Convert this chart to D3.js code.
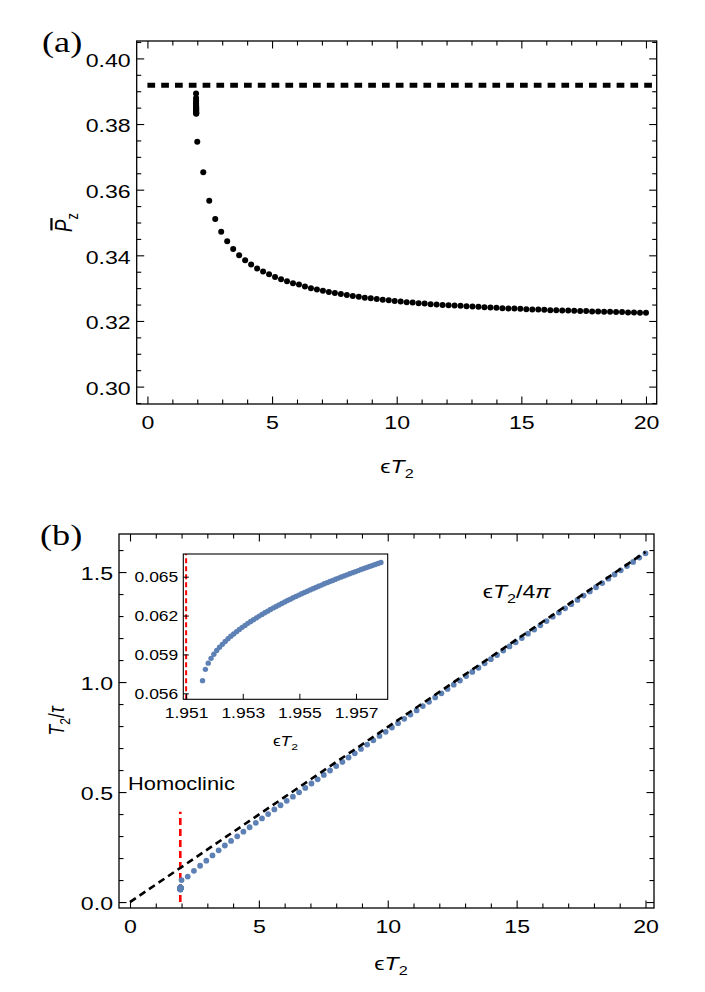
<!DOCTYPE html>
<html>
<head>
<meta charset="utf-8">
<script src="https://cdn.jsdelivr.net/npm/d3@7"></script>
<style>
  body { margin: 0; background: #fff; }
</style>
</head>
<body>
<div id="chart"></div>
<script>
// ---- data ----
// eps*T2 sample points (both panels)
let epsT2 = [2.00, 2.24, 2.48, 2.72, 2.96, 3.20, 3.44, 3.68, 3.92, 4.16,
  4.40, 4.64, 4.88, 5.12, 5.36, 5.60, 5.84, 6.08, 6.32, 6.56,
  6.80, 7.04, 7.28, 7.52, 7.76, 8.00, 8.24, 8.48, 8.72, 8.96,
  9.20, 9.44, 9.68, 9.92, 10.16, 10.40, 10.64, 10.88, 11.12, 11.36,
  11.60, 11.84, 12.08, 12.32, 12.56, 12.80, 13.04, 13.28, 13.52, 13.76,
  14.00, 14.24, 14.48, 14.72, 14.96, 15.20, 15.44, 15.68, 15.92, 16.16,
  16.40, 16.64, 16.88, 17.12, 17.36, 17.60, 17.84, 18.08, 18.32, 18.56,
  18.80, 19.04, 19.28, 19.52, 19.76, 20.00];

// panel (a): time averaged P_z
let pzBar = [0.3746, 0.3653, 0.3566, 0.3511, 0.3472, 0.3443, 0.3419, 0.3400, 0.3385, 0.3372,
  0.3360, 0.3351, 0.3342, 0.3334, 0.3327, 0.3321, 0.3315, 0.3311, 0.3305, 0.3300,
  0.3296, 0.3292, 0.3288, 0.3285, 0.3282, 0.3279, 0.3276, 0.3274, 0.3271, 0.3269,
  0.3267, 0.3265, 0.3263, 0.3261, 0.3259, 0.3257, 0.3256, 0.3254, 0.3253, 0.3251,
  0.3250, 0.3249, 0.3248, 0.3247, 0.3246, 0.3245, 0.3244, 0.3243, 0.3242, 0.3241,
  0.3240, 0.3239, 0.3238, 0.3238, 0.3237, 0.3236, 0.3235, 0.3235, 0.3234, 0.3233,
  0.3233, 0.3232, 0.3232, 0.3231, 0.3230, 0.3230, 0.3229, 0.3229, 0.3228, 0.3228,
  0.3227, 0.3227, 0.3226, 0.3226, 0.3225, 0.3225];

// points of panel (a) squeezed right next to the homoclinic value
let epsT2Cluster = [1.95158, 1.95198, 1.95238, 1.95278, 1.95318, 1.95358, 1.95398, 1.95438,
  1.95478, 1.95518, 1.95558, 1.95598, 1.95638, 1.95678, 1.95718, 1.95758];
let pzBarCluster = [0.3893, 0.3879, 0.3872, 0.3867, 0.3862, 0.3858, 0.3855, 0.3851,
  0.3848, 0.3845, 0.3843, 0.3840, 0.3837, 0.3835, 0.3833, 0.3831];
let pzLimit = 0.3918;

// panel (b): T2/tau
let t2OverTau = [0.100, 0.116, 0.142, 0.165, 0.188, 0.212, 0.235, 0.257, 0.278, 0.299,
  0.320, 0.340, 0.360, 0.380, 0.400, 0.421, 0.440, 0.460, 0.479, 0.499,
  0.519, 0.539, 0.558, 0.578, 0.598, 0.618, 0.637, 0.657, 0.676, 0.696,
  0.716, 0.735, 0.755, 0.774, 0.7935, 0.813, 0.833, 0.852, 0.871, 0.891,
  0.910, 0.930, 0.949, 0.969, 0.988, 1.007, 1.027, 1.046, 1.065, 1.085,
  1.104, 1.123, 1.143, 1.162, 1.181, 1.200, 1.220, 1.239, 1.258, 1.277,
  1.297, 1.316, 1.335, 1.354, 1.3735, 1.393, 1.412, 1.431, 1.450, 1.470,
  1.489, 1.508, 1.527, 1.546, 1.566, 1.585];

// inset: fine scan near the homoclinic point
let epsT2Fine = [1.95158, 1.95168, 1.95178, 1.95188, 1.95198, 1.95208, 1.95218, 1.95228, 1.95238, 1.95248,
  1.95258, 1.95268, 1.95278, 1.95288, 1.95298, 1.95308, 1.95318, 1.95328, 1.95338, 1.95348,
  1.95358, 1.95368, 1.95378, 1.95388, 1.95398, 1.95408, 1.95418, 1.95428, 1.95438, 1.95448,
  1.95458, 1.95468, 1.95478, 1.95488, 1.95498, 1.95508, 1.95518, 1.95528, 1.95538, 1.95548,
  1.95558, 1.95568, 1.95578, 1.95588, 1.95598, 1.95608, 1.95618, 1.95628, 1.95638, 1.95648,
  1.95658, 1.95668, 1.95678, 1.95688, 1.95698, 1.95708, 1.95718, 1.95728, 1.95738, 1.95748,
  1.95758, 1.95768, 1.95778, 1.95788];
let t2OverTauFine = [0.05698, 0.05785, 0.05833, 0.05870, 0.05902, 0.05930, 0.05955, 0.05978, 0.06000, 0.06021,
  0.06040, 0.06058, 0.06076, 0.06093, 0.06109, 0.06124, 0.06140, 0.06154, 0.06168, 0.06182,
  0.06196, 0.06209, 0.06222, 0.06234, 0.06247, 0.06259, 0.06270, 0.06282, 0.06293, 0.06305,
  0.06316, 0.06326, 0.06337, 0.06348, 0.06358, 0.06368, 0.06378, 0.06388, 0.06398, 0.06407,
  0.06417, 0.06426, 0.06435, 0.06445, 0.06454, 0.06463, 0.06471, 0.06480, 0.06489, 0.06497,
  0.06506, 0.06514, 0.06523, 0.06531, 0.06539, 0.06547, 0.06555, 0.06563, 0.06571, 0.06579,
  0.06586, 0.06594, 0.06602, 0.06609];

// reference lines of panel (b)
let asymptoteX = [0, 20];
let asymptoteY = [0, 1.5915];
let homoclinicX = 1.951;
let homoclinicY = [0, 0.41];

// ticks
let xTicksMain = [0, 5, 10, 15, 20];
let xMinorMain = [1, 2, 3, 4, 6, 7, 8, 9, 11, 12, 13, 14, 16, 17, 18, 19];
let yTicksA = [0.30, 0.32, 0.34, 0.36, 0.38, 0.40];
let yMinorA = [0.295, 0.305, 0.31, 0.315, 0.325, 0.33, 0.335, 0.345, 0.35, 0.355,
  0.365, 0.37, 0.375, 0.385, 0.39, 0.395, 0.405];
let yTicksB = [0, 0.5, 1.0, 1.5];
let yMinorB = [0.1, 0.2, 0.3, 0.4, 0.6, 0.7, 0.8, 0.9, 1.1, 1.2, 1.3, 1.4, 1.6];
let xTicksInset = [1.951, 1.953, 1.955, 1.957];
let yTicksInset = [0.056, 0.059, 0.062, 0.065];

// ---- drawing ----
const SANS = "'Liberation Sans', Arial, Helvetica, sans-serif";
const SERIF = "'Liberation Serif', 'Times New Roman', serif";
const STRETCH = 1.25;   // the original figure is stretched sideways
const BLUE = "#5e81b5";

let svg = d3.select("#chart").append("svg")
  .attr("width", 705)
  .attr("height", 992)
  .style("background", "#fff");

// scales (ranges are page pixels)
let xA = d3.scaleLinear().domain([-0.43, 20.43]).range([136.7, 656.7]);
let yA = d3.scaleLinear().domain([0.2947, 0.4053]).range([404, 41]);
let xB = d3.scaleLinear().domain([-0.427, 20.33]).range([119, 654]);
let yB = d3.scaleLinear().domain([-0.027, 1.673]).range([908, 534]);
let xI = d3.scaleLinear().domain([1.9509, 1.95812]).range([183.3, 387.7]);
let yI = d3.scaleLinear().domain([0.05554, 0.06675]).range([699.3, 554]);

// frame with inward ticks on all requested sides
function drawFrame(x, y, o) {
  let [x0, x1] = x.range();
  let [y0, y1] = y.range();
  let g = svg.append("g");

  let addAxis = (axis, tr) => {
    let a = g.append("g").attr("transform", tr).call(axis);
    a.select(".domain").remove();
    a.selectAll("line").attr("stroke-width", o.tickWidth);
    return a;
  };

  // bottom with labels
  let b = addAxis(d3.axisBottom(x).tickValues(o.xMajor).tickSize(-o.major).tickFormat(o.xFmt),
    `translate(0,${y0})`);
  b.selectAll("text")
    .attr("y", o.xLabelY).attr("dy", null)
    .attr("font-family", SANS).attr("font-size", o.fs)
    .attr("transform", `scale(${STRETCH},1)`);

  // left with labels
  let l = addAxis(d3.axisLeft(y).tickValues(o.yMajor).tickSize(-o.major).tickFormat(o.yFmt),
    `translate(${x0},0)`);
  l.selectAll("text")
    .attr("x", -o.yLabelGap / STRETCH).attr("dy", o.yDy)
    .attr("font-family", SANS).attr("font-size", o.fs)
    .attr("transform", `scale(${STRETCH},1)`);

  if (o.xMinor) addAxis(d3.axisBottom(x).tickValues(o.xMinor).tickSize(-o.minor).tickFormat(""), `translate(0,${y0})`);
  if (o.yMinor) addAxis(d3.axisLeft(y).tickValues(o.yMinor).tickSize(-o.minor).tickFormat(""), `translate(${x0},0)`);

  if (o.mirror) {
    addAxis(d3.axisTop(x).tickValues(o.xMajor).tickSize(-o.major).tickFormat(""), `translate(0,${y1})`);
    addAxis(d3.axisTop(x).tickValues(o.xMinor).tickSize(-o.minor).tickFormat(""), `translate(0,${y1})`);
    addAxis(d3.axisRight(y).tickValues(o.yMajor).tickSize(-o.major).tickFormat(""), `translate(${x1},0)`);
    addAxis(d3.axisRight(y).tickValues(o.yMinor).tickSize(-o.minor).tickFormat(""), `translate(${x1},0)`);
  }

  g.append("rect")
    .attr("x", x0).attr("y", y1)
    .attr("width", x1 - x0).attr("height", y0 - y1)
    .attr("fill", "none").attr("stroke", "#000").attr("stroke-width", o.frameWidth);
  return g;
}

// text with italic / subscript pieces
function mathText(parent, parts, size, anchor) {
  let t = parent.append("text")
    .attr("font-family", SANS)
    .attr("font-size", size)
    .attr("text-anchor", anchor)
    .attr("fill", "#000");
  let down = false;
  parts.forEach(p => {
    let s = t.append("tspan").text(p.t);
    if (p.it) s.attr("font-style", "italic");
    if (p.sub) {
      s.attr("font-size", size * 0.7);
      if (!down) { s.attr("dy", size * 0.28); down = true; }
    } else if (down) {
      s.attr("dy", -size * 0.28);
      down = false;
    }
  });
  return t;
}

let epsLabel = [{ t: "ϵ" }, { t: "T", it: true }, { t: "2", sub: true }];

// ================= panel (a) =================
svg.append("line")
  .attr("x1", xA(0)).attr("x2", xA(xA.domain()[1]))
  .attr("y1", yA(pzLimit)).attr("y2", yA(pzLimit))
  .attr("stroke", "#000").attr("stroke-width", 5)
  .attr("stroke-dasharray", "7.7,6.1");

svg.append("g").selectAll("circle")
  .data(d3.zip(epsT2Cluster, pzBarCluster).concat(d3.zip(epsT2, pzBar)))
  .join("circle")
  .attr("cx", d => xA(d[0]))
  .attr("cy", d => yA(d[1]))
  .attr("r", 3)
  .attr("fill", "#000");

drawFrame(xA, yA, {
  xMajor: xTicksMain, xMinor: xMinorMain, yMajor: yTicksA, yMinor: yMinorA,
  xFmt: d3.format("d"), yFmt: d3.format(".2f"),
  major: 7.5, minor: 4.5, fs: 18.5, xLabelY: 25.3, yLabelGap: 6, yDy: "0.42em",
  mirror: true, tickWidth: 1.1, frameWidth: 1.3
});

mathText(svg.append("g").attr("transform", `translate(397,473) scale(${STRETCH},1)`), epsLabel, 18.5, "middle");

// y label: P-bar with subscript z
let pzG = svg.append("g").attr("transform", `translate(71.7,222.5) rotate(-90) scale(1,${STRETCH})`);
let pzText = mathText(pzG, [{ t: "P", it: true }, { t: "z", sub: true }], 18.5, "middle");
let pBox = pzText.node().getExtentOfChar(0);
pzG.append("line")
  .attr("x1", pBox.x + 1.5).attr("x2", pBox.x + pBox.width + 1.5)
  .attr("y1", -16.2).attr("y2", -16.2)
  .attr("stroke", "#000").attr("stroke-width", 1.8);

svg.append("text")
  .attr("transform", `translate(42,52) scale(${STRETCH},1)`)
  .attr("font-family", SERIF).attr("font-size", 29)
  .text("(a)");

// ================= panel (b) =================
svg.append("line")
  .attr("x1", xB(homoclinicX)).attr("x2", xB(homoclinicX))
  .attr("y1", yB(homoclinicY[0])).attr("y2", yB(homoclinicY[1]))
  .attr("stroke", "#ff0000").attr("stroke-width", 2.6)
  .attr("stroke-dasharray", "7,4");

svg.append("g").selectAll("circle")
  .data(d3.zip(epsT2Fine, t2OverTauFine).concat(d3.zip(epsT2, t2OverTau)))
  .join("circle")
  .attr("cx", d => xB(d[0]))
  .attr("cy", d => yB(d[1]))
  .attr("r", 2.9)
  .attr("fill", BLUE);

svg.append("path")
  .datum(d3.zip(asymptoteX, asymptoteY))
  .attr("d", d3.line().x(d => xB(d[0])).y(d => yB(d[1])))
  .attr("stroke", "#000").attr("stroke-width", 2.6)
  .attr("stroke-dasharray", "7,4.5").attr("fill", "none");

drawFrame(xB, yB, {
  xMajor: xTicksMain, xMinor: xMinorMain, yMajor: yTicksB, yMinor: yMinorB,
  xFmt: d3.format("d"), yFmt: d3.format(".1f"),
  major: 7.5, minor: 4.5, fs: 18.5, xLabelY: 25.3, yLabelGap: 6, yDy: "0.38em",
  mirror: true, tickWidth: 1.1, frameWidth: 1.3
});

mathText(svg.append("g").attr("transform", `translate(391,970) scale(${STRETCH},1)`), epsLabel, 18.5, "middle");

let tauG = svg.append("g").attr("transform", `translate(64,721) rotate(-90) scale(1,${STRETCH})`);
mathText(tauG, [{ t: "T", it: true }, { t: "2", sub: true }, { t: "/" }, { t: "τ", it: true }], 17.5, "middle");

svg.append("text")
  .attr("transform", `translate(40,545) scale(${STRETCH},1)`)
  .attr("font-family", SERIF).attr("font-size", 29)
  .text("(b)");

svg.append("text")
  .attr("transform", `translate(128,790) scale(${STRETCH},1)`)
  .attr("font-family", SANS).attr("font-size", 17.5)
  .text("Homoclinic");

mathText(svg.append("g").attr("transform", `translate(482.7,598) scale(${STRETCH},1)`),
  [{ t: "ϵ" }, { t: "T", it: true }, { t: "2", sub: true }, { t: "/4" }, { t: "π", it: true }], 18.5, "start");

// ================= inset =================
svg.append("rect")
  .attr("x", xI.range()[0]).attr("y", yI.range()[1])
  .attr("width", xI.range()[1] - xI.range()[0])
  .attr("height", yI.range()[0] - yI.range()[1])
  .attr("fill", "#fff");

svg.append("line")
  .attr("x1", xI(homoclinicX)).attr("x2", xI(homoclinicX))
  .attr("y1", yI.range()[0]).attr("y2", yI.range()[1])
  .attr("stroke", "#ff0000").attr("stroke-width", 2)
  .attr("stroke-dasharray", "5,3");

svg.append("g").selectAll("circle")
  .data(d3.zip(epsT2Fine, t2OverTauFine))
  .join("circle")
  .attr("cx", d => xI(d[0]))
  .attr("cy", d => yI(d[1]))
  .attr("r", 2.7)
  .attr("fill", BLUE);

drawFrame(xI, yI, {
  xMajor: xTicksInset, yMajor: yTicksInset,
  xFmt: d3.format(".3f"), yFmt: d3.format(".3f"),
  major: 5.5, minor: 3, fs: 14, xLabelY: 18.7, yLabelGap: 5, yDy: "0.36em",
  mirror: false, tickWidth: 1, frameWidth: 1.1
});

mathText(svg.append("g").attr("transform", `translate(285.5,746) scale(${STRETCH},1)`), epsLabel, 14, "middle");
</script>
</body>
</html>
